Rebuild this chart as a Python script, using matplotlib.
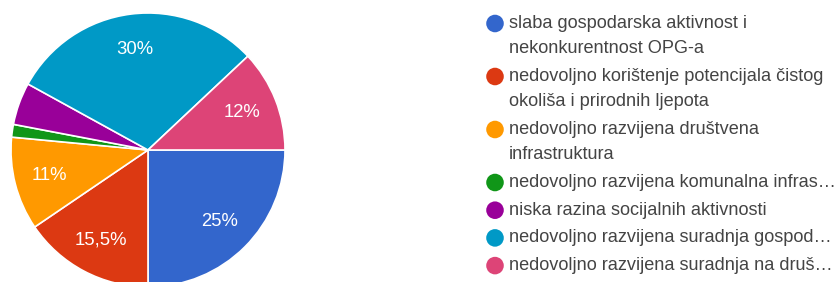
import matplotlib
matplotlib.use("Agg")
import matplotlib.pyplot as plt
import numpy as np

# slice data, clockwise from 3 o'clock
shares = [25, 15.5, 11, 1.5, 5, 30, 12]
pct_labels = ["25%", "15,5%", "11%", "", "", "30%", "12%"]
legend_labels = [
    "slaba gospodarska aktivnost i\nnekonkurentnost OPG-a",
    "nedovoljno korištenje potencijala čistog\nokoliša i prirodnih ljepota",
    "nedovoljno razvijena društvena\ninfrastruktura",
    "nedovoljno razvijena komunalna infras…",
    "niska razina socijalnih aktivnosti",
    "nedovoljno razvijena suradnja gospod…",
    "nedovoljno razvijena suradnja na druš…",
]
colors = ["#3366cc", "#dc3912", "#ff9900", "#109618", "#990099", "#0099c6", "#dd4477"]

plt.rcParams['font.family'] = ['Liberation Sans', 'DejaVu Sans']

W, H = 836, 282
fig = plt.figure(figsize=(W / 100, H / 100), dpi=100, facecolor='white')

# pie area: centre (148, 150) px, radius 137 px
cx, cy, r = 148, 150, 137
ax = fig.add_axes([(cx - r) / W, (H - cy - r) / H, 2 * r / W, 2 * r / H])
wedges, texts = ax.pie(
    shares, colors=colors, startangle=0, counterclock=False, radius=1,
    wedgeprops=dict(edgecolor='white', linewidth=1.2),
)
for w, lab in zip(wedges, pct_labels):
    if not lab:
        continue
    ang = np.radians((w.theta1 + w.theta2) / 2)
    ax.text(0.74 * np.cos(ang), 0.74 * np.sin(ang), lab, ha='center', va='center',
            color='white', fontsize=13.3)
ax.set_xlim(-1, 1)
ax.set_ylim(-1, 1)
ax.set_aspect('equal')
ax.axis('off')

# legend drawn by hand, pixel layout
lx = fig.add_axes([0, 0, 1, 1])
lx.set_xlim(0, W)
lx.set_ylim(H, 0)
lx.axis('off')
y = 23.5
line_step = 25.3
item_step = 27.7
for lab, col in zip(legend_labels, colors):
    lx.scatter([495], [y], s=160, color=col, edgecolors='none')
    lines = lab.split("\n")
    for i, ln in enumerate(lines):
        lx.text(509, y + i * line_step, ln, ha='left', va='center',
                fontsize=13.1, color='#444444')
    y += (len(lines) - 1) * line_step + item_step

fig.savefig("out.png", dpi=100, facecolor='white')
